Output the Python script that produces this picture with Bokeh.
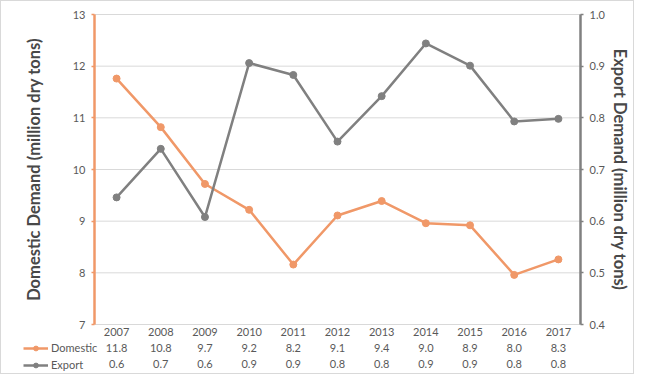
from bokeh.plotting import figure
from bokeh.models import (Range1d, LinearAxis, FixedTicker, PrintfTickFormatter,
                          Legend, LegendItem)
from bokeh.embed import file_html
from bokeh.resources import INLINE

years = ["2007", "2008", "2009", "2010", "2011", "2012", "2013", "2014", "2015", "2016", "2017"]
domestic = [11.76, 10.82, 9.72, 9.22, 8.16, 9.11, 9.39, 8.96, 8.92, 7.96, 8.26]
export = [0.646, 0.740, 0.608, 0.906, 0.883, 0.754, 0.842, 0.944, 0.901, 0.793, 0.798]
left_ticks = [7, 8, 9, 10, 11, 12, 13]
right_ticks = [0.4, 0.5, 0.6, 0.7, 0.8, 0.9, 1.0]

ORANGE = "#F09868"
GRAY = "#808080"
TXT = "#595959"
TITLE = "#484848"
FONT = "Lato"

# ---- layout (pixels) ----
W, H = 634, 374
AX_L, AX_R = 93, 579          # left / right value axes
TOP, BOT = 13, 323            # y of top tick / bottom tick

n = len(years)
ylo, yhi = left_ticks[0], left_ticks[-1]
rlo, rhi = right_ticks[0], right_ticks[-1]
ppu_y = (BOT - TOP) / (yhi - ylo)
ppu_r = (BOT - TOP) / (rhi - rlo)
ppu_x = (AX_R - AX_L) / n

x_range = Range1d(-AX_L / ppu_x, n + (W - AX_R) / ppu_x)
y_range = Range1d(ylo - (H - BOT) / ppu_y, yhi + TOP / ppu_y)

p = figure(width=W, height=H, x_range=x_range, y_range=y_range,
           x_axis_type=None, y_axis_type=None,
           output_backend="svg", toolbar_location=None,
           min_border=0, min_border_left=0, min_border_right=0,
           min_border_top=0, min_border_bottom=0)
p.styles = {"border": "1px solid #D9D9D9"}
p.outline_line_color = None
p.background_fill_color = "white"
p.border_fill_color = "white"
p.extra_y_ranges = {"exp": Range1d(rlo - (H - BOT) / ppu_r, rhi + TOP / ppu_r)}

centers = [i + 0.5 for i in range(n)]

# horizontal gridlines at the tick values, spanning the category area
p.segment(x0=[0] * len(left_ticks), x1=[n] * len(left_ticks), y0=left_ticks, y1=left_ticks,
          line_color="#D9D9D9", line_width=1)

# series
dl = p.line(centers, domestic, line_color=ORANGE, line_width=2.5)
ds = p.scatter(centers, domestic, size=7, fill_color=ORANGE, line_color=ORANGE)
el = p.line(centers, export, line_color=GRAY, line_width=2.5, y_range_name="exp")
es = p.scatter(centers, export, size=7, fill_color=GRAY, line_color=GRAY, y_range_name="exp")


def style_axis(ax, color):
    ax.axis_line_color = color
    ax.axis_line_width = 2.5
    ax.major_tick_line_color = color
    ax.major_tick_line_width = 1.5
    ax.major_tick_out = 3
    ax.major_tick_in = 0
    ax.minor_tick_line_color = None
    ax.major_label_text_font = FONT
    ax.major_label_text_font_size = "11px"
    ax.major_label_text_color = TXT
    ax.major_label_standoff = 6
    ax.axis_label_text_font = FONT
    ax.axis_label_text_font_size = "16.5px"
    ax.axis_label_text_font_style = "bold"
    ax.axis_label_text_color = TITLE


la = LinearAxis(fixed_location=0, bounds=(ylo, yhi), ticker=FixedTicker(ticks=left_ticks),
                axis_label="Domestic Demand (million dry tons)")
style_axis(la, ORANGE)
la.axis_label_standoff = 26
p.add_layout(la, "left")

ra = LinearAxis(y_range_name="exp", fixed_location=n, bounds=(rlo, rhi),
                ticker=FixedTicker(ticks=right_ticks), formatter=PrintfTickFormatter(format="%.1f"),
                axis_label="Export Demand (million dry tons)")
style_axis(ra, GRAY)
ra.axis_label_standoff = 2
p.add_layout(ra, "right")

# category labels and data-table rows, hanging below the bottom tick
rows = [
    {c: y for c, y in zip(centers, years)},
    {c: f"{v:.1f}" for c, v in zip(centers, domestic)},
    {c: f"{v:.1f}" for c, v in zip(centers, export)},
]
standoffs = [3, 19, 35]
for overrides, so in zip(rows, standoffs):
    ax = LinearAxis(fixed_location=ylo, ticker=FixedTicker(ticks=centers),
                    major_label_overrides=overrides)
    ax.axis_line_color = None
    ax.major_tick_line_color = None
    ax.minor_tick_line_color = None
    ax.major_tick_out = 0
    ax.major_tick_in = 0
    ax.major_label_text_font = FONT
    ax.major_label_text_font_size = "11px"
    ax.major_label_text_color = TXT
    ax.major_label_standoff = so
    p.add_layout(ax, "below")

legend = Legend(items=[LegendItem(label="Domestic", renderers=[dl, ds]),
                       LegendItem(label="Export", renderers=[el, es])],
                location=(22, 4), orientation="vertical",
                padding=0, margin=0, spacing=4, glyph_width=25, glyph_height=12,
                label_height=12, label_standoff=3,
                label_text_font=FONT, label_text_font_size="11px", label_text_color=TXT,
                border_line_color=None, background_fill_alpha=0)
p.add_layout(legend)

open("out.html", "w").write(file_html(p, INLINE))
